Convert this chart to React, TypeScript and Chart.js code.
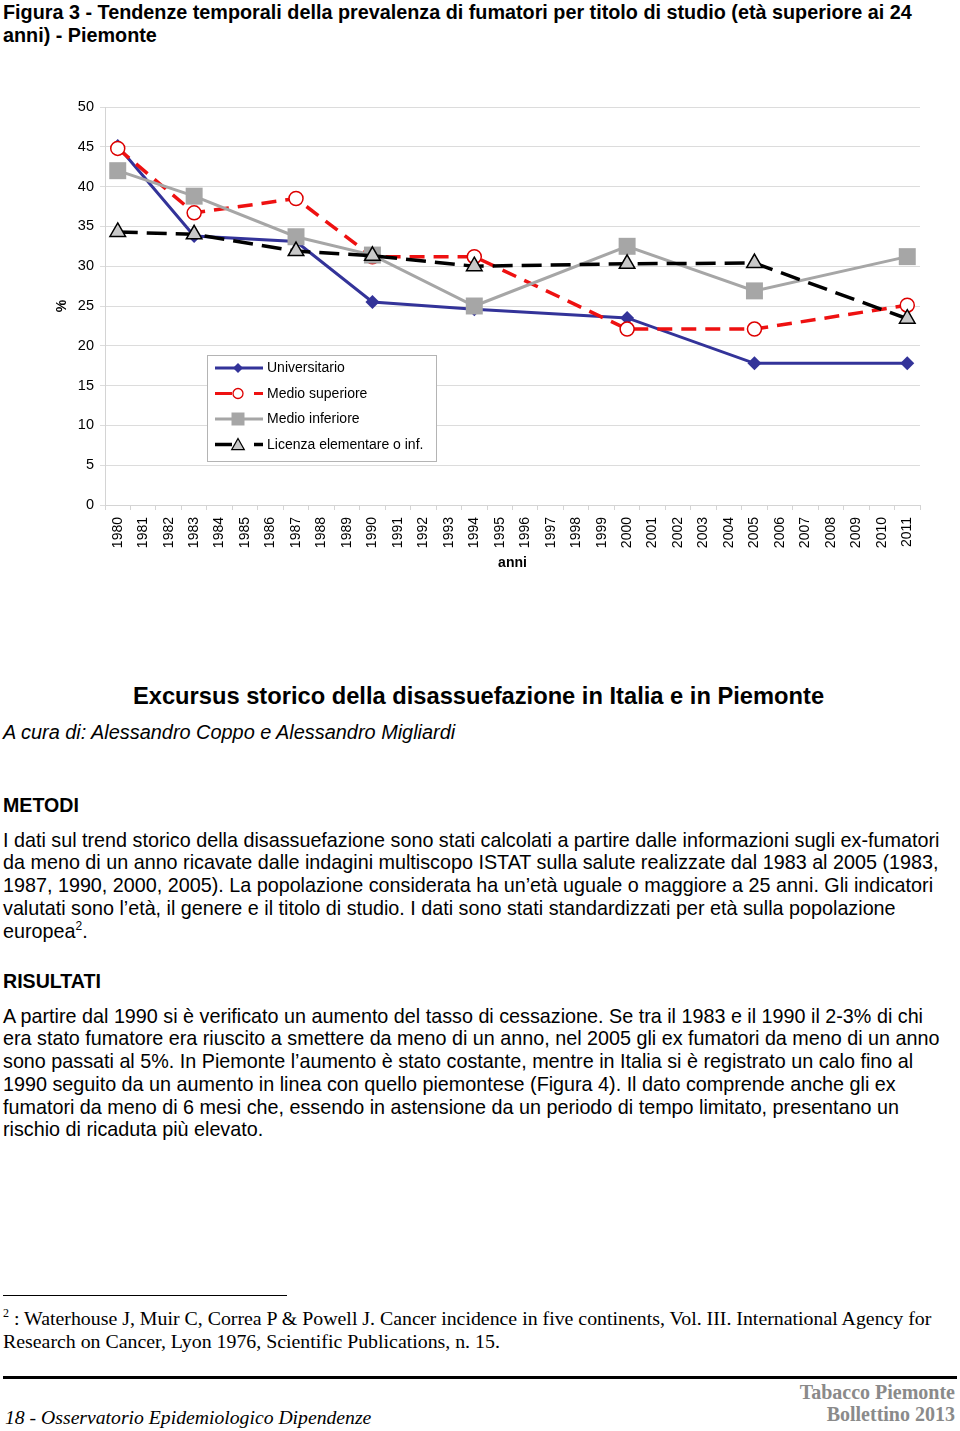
import React, { useEffect, useRef } from 'react';
import { Chart, registerables } from 'chart.js';

Chart.register(...registerables);

// ---- data ----
const yearLabels = [
  '1980', '1981', '1982', '1983', '1984', '1985', '1986', '1987', '1988', '1989', '1990',
  '1991', '1992', '1993', '1994', '1995', '1996', '1997', '1998', '1999', '2000', '2001',
  '2002', '2003', '2004', '2005', '2006', '2007', '2008', '2009', '2010', '2011',
];
const surveyYears = ['1980', '1983', '1987', '1990', '1994', '2000', '2005', '2011'];
const universitario = [45.1, 33.8, 33.1, 25.5, 24.6, 23.5, 17.8, 17.8];
const medioSuperiore = [44.8, 36.7, 38.5, 31.2, 31.2, 22.1, 22.1, 25.1];
const medioInferiore = [42.0, 38.8, 33.7, 31.4, 25.0, 32.5, 26.9, 31.2];
const licenza = [34.3, 34.0, 31.9, 31.3, 30.0, 30.3, 30.4, 23.4];
const seriesNames = ['Universitario', 'Medio superiore', 'Medio inferiore', 'Licenza elementare o inf.'];
const yMin = 0;
const yMax = 50;
const yStep = 5;

const BLUE = '#333399';
const RED = '#EE1111';
const GRAY = '#A6A6A6';
const BLACK = '#000000';
const TRI_FILL = '#C8C8C8';

const FONT = "'Liberation Sans', Arial, sans-serif";
const SERIF = "'Liberation Serif', 'Times New Roman', serif";

function toPoints(values: number[]) {
  return surveyYears.map((yr, i) => ({ x: yr, y: values[i] }));
}

function drawMarker(ctx: CanvasRenderingContext2D, kind: string, x: number, y: number, s: number, fill: string, stroke: string, lw: number) {
  ctx.save();
  ctx.beginPath();
  if (kind === 'diamond') {
    ctx.moveTo(x, y - s);
    ctx.lineTo(x + s, y);
    ctx.lineTo(x, y + s);
    ctx.lineTo(x - s, y);
    ctx.closePath();
  } else if (kind === 'circle') {
    ctx.arc(x, y, s, 0, Math.PI * 2);
  } else if (kind === 'square') {
    ctx.rect(x - s, y - s, 2 * s, 2 * s);
  } else if (kind === 'triangle') {
    ctx.moveTo(x, y - s);
    ctx.lineTo(x + s * 1.05, y + s * 0.85);
    ctx.lineTo(x - s * 1.05, y + s * 0.85);
    ctx.closePath();
  }
  ctx.fillStyle = fill;
  ctx.fill();
  if (lw > 0) {
    ctx.strokeStyle = stroke;
    ctx.lineWidth = lw;
    ctx.stroke();
  }
  ctx.restore();
}

const legendSpec = [
  { color: BLUE, marker: 'diamond', size: 5, fill: BLUE, stroke: BLUE, lw: 0, dashed: false, width: 3 },
  { color: RED, marker: 'circle', size: 5, fill: '#ffffff', stroke: '#DD0000', lw: 1.3, dashed: true, width: 3 },
  { color: GRAY, marker: 'square', size: 6.5, fill: GRAY, stroke: GRAY, lw: 0, dashed: false, width: 3 },
  { color: BLACK, marker: 'triangle', size: 6, fill: TRI_FILL, stroke: BLACK, lw: 1.2, dashed: true, width: 3.5 },
];

const boxLegend = {
  id: 'boxLegend',
  afterDraw(chart: any) {
    const { ctx, chartArea } = chart;
    const bx = Math.round(chartArea.left + 102);
    const by = Math.round(chartArea.top + 248);
    const bw = 229;
    const bh = 106;
    ctx.save();
    ctx.fillStyle = '#ffffff';
    ctx.fillRect(bx, by, bw, bh);
    ctx.strokeStyle = '#b4b4b4';
    ctx.lineWidth = 1;
    ctx.strokeRect(bx + 0.5, by + 0.5, bw, bh);
    seriesNames.forEach((name, i) => {
      const spec = legendSpec[i];
      const cy = by + 13 + i * 25.5;
      ctx.strokeStyle = spec.color;
      ctx.lineWidth = spec.width;
      ctx.lineCap = 'butt';
      ctx.beginPath();
      if (spec.dashed) {
        ctx.moveTo(bx + 8, cy);
        ctx.lineTo(bx + 25, cy);
        ctx.moveTo(bx + 47, cy);
        ctx.lineTo(bx + 56, cy);
      } else {
        ctx.moveTo(bx + 8, cy);
        ctx.lineTo(bx + 56, cy);
      }
      ctx.stroke();
      drawMarker(ctx, spec.marker, bx + 31, cy, spec.size, spec.fill, spec.stroke, spec.lw);
      ctx.fillStyle = '#000';
      ctx.font = `14px ${FONT}`;
      ctx.textBaseline = 'middle';
      ctx.textAlign = 'left';
      ctx.fillText(name, bx + 60, cy + 0.5);
    });
    ctx.restore();
  },
};

function ChartBox() {
  const ref = useRef<HTMLCanvasElement | null>(null);
  useEffect(() => {
    if (!ref.current) return;
    const chart = new Chart(ref.current, {
      type: 'line',
      data: {
        labels: yearLabels,
        datasets: [
          {
            label: seriesNames[0],
            data: toPoints(universitario),
            borderColor: BLUE,
            backgroundColor: BLUE,
            borderWidth: 3,
            pointStyle: 'rectRot',
            pointRadius: 7,
            pointBackgroundColor: BLUE,
            pointBorderColor: BLUE,
            pointBorderWidth: 0,
            order: 3,
          },
          {
            label: seriesNames[1],
            data: toPoints(medioSuperiore),
            borderColor: RED,
            backgroundColor: RED,
            borderWidth: 3.5,
            borderDash: [15, 9],
            pointStyle: 'circle',
            pointRadius: 7,
            pointBackgroundColor: '#ffffff',
            pointBorderColor: '#DD0000',
            pointBorderWidth: 1.5,
            order: 2,
          },
          {
            label: seriesNames[2],
            data: toPoints(medioInferiore),
            borderColor: GRAY,
            backgroundColor: GRAY,
            borderWidth: 3,
            pointStyle: 'rect',
            pointRadius: 12,
            pointBackgroundColor: GRAY,
            pointBorderColor: GRAY,
            pointBorderWidth: 0,
            order: 1,
          },
          {
            label: seriesNames[3],
            data: toPoints(licenza),
            borderColor: BLACK,
            backgroundColor: BLACK,
            borderWidth: 3.5,
            borderDash: [20, 9],
            pointStyle: 'triangle',
            pointRadius: 9,
            pointBackgroundColor: TRI_FILL,
            pointBorderColor: BLACK,
            pointBorderWidth: 1.5,
            order: 0,
          },
        ],
      },
      options: {
        responsive: false,
        animation: false,
        events: [],
        layout: { padding: { top: 57, right: 40, left: 0, bottom: 0 } },
        plugins: {
          legend: { display: false },
          tooltip: { enabled: false },
          title: { display: false },
        },
        scales: {
          x: {
            type: 'category',
            offset: true,
            grid: {
              offset: true,
              drawOnChartArea: false,
              drawTicks: true,
              tickLength: 5,
              color: '#d4d4d4',
            },
            border: { display: true, color: '#d4d4d4', width: 1 },
            ticks: {
              autoSkip: false,
              minRotation: 90,
              maxRotation: 90,
              padding: 7,
              color: '#000',
              font: { family: FONT, size: 14 },
            },
            title: {
              display: true,
              text: 'anni',
              color: '#000',
              font: { family: FONT, size: 14, weight: 'bold' },
              padding: { top: 0, bottom: 18.6 },
            },
            afterFit: (scale: any) => {
              scale.height = 85;
            },
          },
          y: {
            min: yMin,
            max: yMax,
            grid: {
              color: '#dcdcdc',
              lineWidth: 1,
              tickLength: 5,
              drawTicks: true,
            },
            border: { display: true, color: '#d4d4d4', width: 1 },
            ticks: {
              stepSize: yStep,
              padding: 6,
              color: '#000',
              font: { family: FONT, size: 14.5 },
            },
            title: {
              display: true,
              text: '%',
              color: '#000',
              font: { family: FONT, size: 14, weight: 'bold' },
              padding: { top: 53.6, bottom: 0 },
            },
            afterFit: (scale: any) => {
              scale.width = 105;
            },
          },
        },
      },
      plugins: [boxLegend],
    } as any);
    return () => chart.destroy();
  }, []);
  return <canvas ref={ref} width={960} height={540} style={{ display: 'block', width: 960, height: 540 }} />;
}

const abs = (top: number, extra: React.CSSProperties = {}): React.CSSProperties => ({
  position: 'absolute',
  top,
  left: 3,
  margin: 0,
  whiteSpace: 'nowrap',
  ...extra,
});

export default function App() {
  const body: React.CSSProperties = { fontFamily: FONT, fontSize: 19.75, lineHeight: '22.75px', color: '#000' };
  return (
    <div style={{ position: 'absolute', left: 0, top: 0, width: 960, height: 1431, background: '#fff', overflow: 'hidden', fontFamily: FONT }}>
      <div style={abs(0.5, { fontWeight: 'bold', fontSize: 19.8, lineHeight: '23px' })}>
        Figura 3 - Tendenze temporali della prevalenza di fumatori per titolo di studio (età superiore ai 24
        <br />
        anni) - Piemonte
      </div>

      <div style={{ position: 'absolute', left: 0, top: 50, width: 960, height: 540 }}>
        <ChartBox />
      </div>

      <div style={abs(682, { left: 0, width: 957, textAlign: 'center', fontWeight: 'bold', fontSize: 23.7, lineHeight: '28px' })}>
        Excursus storico della disassuefazione in Italia e in Piemonte
      </div>
      <div style={abs(720, { fontStyle: 'italic', fontSize: 19.9, lineHeight: '24px' })}>
        A cura di: Alessandro Coppo e Alessandro Migliardi
      </div>

      <div style={abs(793, { fontWeight: 'bold', fontSize: 19.6, lineHeight: '24px' })}>METODI</div>
      <div style={abs(828.6, body)}>
        I dati sul trend storico della disassuefazione sono stati calcolati a partire dalle informazioni sugli ex-fumatori
        <br />
        da meno di un anno ricavate dalle indagini multiscopo ISTAT sulla salute realizzate dal 1983 al 2005 (1983,
        <br />
        1987, 1990, 2000, 2005). La popolazione considerata ha un’età uguale o maggiore a 25 anni. Gli indicatori
        <br />
        valutati sono l’età, il genere e il titolo di studio. I dati sono stati standardizzati per età sulla popolazione
        <br />
        europea<sup style={{ fontSize: 12, lineHeight: 0, verticalAlign: 'super' }}>2</sup>.
      </div>

      <div style={abs(969, { fontWeight: 'bold', fontSize: 19.6, lineHeight: '24px' })}>RISULTATI</div>
      <div style={abs(1004.6, body)}>
        A partire dal 1990 si è verificato un aumento del tasso di cessazione. Se tra il 1983 e il 1990 il 2-3% di chi
        <br />
        era stato fumatore era riuscito a smettere da meno di un anno, nel 2005 gli ex fumatori da meno di un anno
        <br />
        sono passati al 5%. In Piemonte l’aumento è stato costante, mentre in Italia si è registrato un calo fino al
        <br />
        1990 seguito da un aumento in linea con quello piemontese (Figura 4). Il dato comprende anche gli ex
        <br />
        fumatori da meno di 6 mesi che, essendo in astensione da un periodo di tempo limitato, presentano un
        <br />
        rischio di ricaduta più elevato.
      </div>

      <div style={{ position: 'absolute', left: 3, top: 1295, width: 284, height: 1, background: '#000' }} />
      <div style={abs(1306.5, { fontFamily: SERIF, fontSize: 19.85, lineHeight: '23px' })}>
        <sup style={{ fontSize: 12, lineHeight: 0, verticalAlign: 'super' }}>2</sup> : Waterhouse J, Muir C, Correa P &amp; Powell J. Cancer incidence in five continents, Vol. III. International Agency for
        <br />
        Research on Cancer, Lyon 1976, Scientific Publications, n. 15.
      </div>

      <div style={{ position: 'absolute', left: 3, top: 1376, width: 954, height: 3, background: '#000' }} />
      <div style={abs(1381, { left: 0, width: 955, textAlign: 'right', fontFamily: SERIF, fontWeight: 'bold', fontSize: 20, lineHeight: '22px', color: '#8a8a8a' })}>
        Tabacco Piemonte
        <br />
        Bollettino 2013
      </div>
      <div style={abs(1405, { left: 5, fontFamily: SERIF, fontStyle: 'italic', fontSize: 19.7, lineHeight: '24px' })}>
        18 - Osservatorio Epidemiologico Dipendenze
      </div>
    </div>
  );
}
